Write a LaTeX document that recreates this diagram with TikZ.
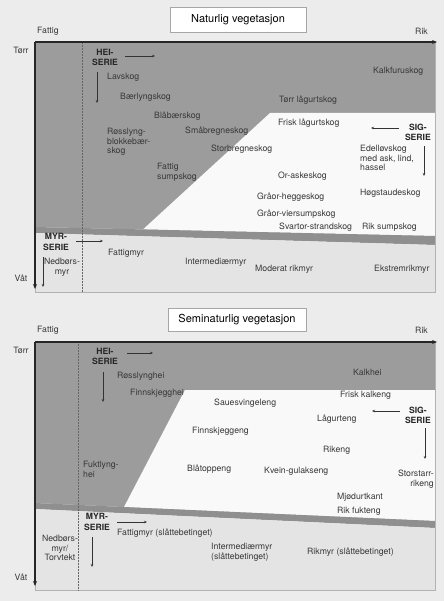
\documentclass[tikz,border=0pt]{standalone}
\usepackage{fontspec}
\setmainfont{TeX Gyre Heros}
\usepackage{tikz}
\usetikzlibrary{arrows.meta}
\definecolor{bakgrunn}{gray}{0.925}
\definecolor{mork}{gray}{0.61}
\definecolor{lys}{gray}{0.975}
\definecolor{band}{gray}{0.56}
\definecolor{myrflate}{gray}{0.895}
\tikzset{
  lbl/.style={font=\fontsize{8.7}{9.7}\selectfont, text=black!78, inner sep=0pt, anchor=west, align=left},
  lblr/.style={lbl, anchor=east, align=right},
  lblc/.style={lbl, anchor=center, align=center},
  serie/.style={font=\bfseries\fontsize{8.6}{10.5}\selectfont, text=black!85, inner sep=0pt, align=center},
  tittel/.style={draw=gray!70, fill=white, inner sep=0pt, font=\fontsize{11}{13}\selectfont},
  akse/.style={line width=1.4pt, black!85, -{Stealth[length=5pt,width=4pt]}},
  pil/.style={line width=0.5pt, black!80, -{Stealth[length=3pt,width=2.5pt]}},
  ramme/.style={gray!60, line width=0.9pt},
  skille/.style={black!60, line width=0.5pt, densely dotted}
}
\begin{document}
\begin{tikzpicture}[x=1pt,y=-1pt]
  \path[use as bounding box, fill=bakgrunn] (0,0) rectangle (444,601);

  % Naturlig vegetasjon
  \fill[mork](35,42)--(435,42)--(435,236)--(35,227)--cycle;
  \fill[lys](270,113)--(435,113)--(435,236)--(143,229.4)--cycle;
  \fill[band](35,227)--(435,236)--(435,245)--(35,233)--cycle;
  \fill[myrflate](35,233)--(435,245)--(435,292)--(35,292)--cycle;
  \draw[ramme](35,42)rectangle(435,292);
  \draw[skille](82,42)--(82,292);

  \coordinate (n-o) at (35,42);
  \coordinate (n-rik) at (437,42);
  \coordinate (n-vat) at (35,289);
  \draw[akse](n-o)--(n-rik);
  \draw[akse](n-o)--(n-vat);

  \node[tittel, minimum width=136pt, minimum height=25pt] (n-tittel) at (238,20) {Naturlig vegetasjon};
  \node[lbl] (n-fattig) at (37,31) {Fattig};
  \node[lblr] (n-rikord) at (428,31) {Rik};
  \node[lblc] (n-torr) at (21,50) {Tørr};
  \node[lblc] (n-vatord) at (21,278) {Våt};

  \node[serie] (n-hei) at (105,57.5) {HEI-\\SERIE};
  \node[serie, anchor=east] (n-sig) at (431,132.5) {SIG-\\SERIE};
  \node[serie] (n-myr) at (56,242) {MYR-\\SERIE};

  \coordinate (n-hei-h0) at (125,56);
  \coordinate (n-hei-h1) at (155,56);
  \coordinate (n-hei-v0) at (97,72);
  \coordinate (n-hei-v1) at (97,103);
  \coordinate (n-sig-h0) at (399,128);
  \coordinate (n-sig-h1) at (371,128);
  \coordinate (n-sig-v0) at (424,146);
  \coordinate (n-sig-v1) at (424,176);
  \coordinate (n-myr-h0) at (76,241);
  \coordinate (n-myr-h1) at (103,241);
  \coordinate (n-myr-v0) at (43,257);
  \coordinate (n-myr-v1) at (43,287);
  \draw[pil](n-hei-h0)--(n-hei-h1);
  \draw[pil](n-hei-v0)--(n-hei-v1);
  \draw[pil](n-sig-h0)--(n-sig-h1);
  \draw[pil](n-sig-v0)--(n-sig-v1);
  \draw[pil](n-myr-h0)--(n-myr-h1);
  \draw[pil](n-myr-v0)--(n-myr-v1);

  \node[lbl] (n-lav) at (107,77) {Lavskog};
  \node[lbl] (n-baerlyng) at (120,97) {Bærlyngskog};
  \node[lbl] (n-blabaer) at (154,116) {Blåbærskog};
  \node[lbl] (n-rosslyng) at (107,142) {Røsslyng-\\blokkebær-\\skog};
  \node[lbl] (n-smabregne) at (185,131) {Småbregneskog};
  \node[lbl] (n-storbregne) at (211,149) {Storbregneskog};
  \node[lbl] (n-fattigsump) at (157,172) {Fattig\\sumpskog};
  \node[lbl] (n-kalkfuru) at (373,71) {Kalkfuruskog};
  \node[lbl] (n-torrlagurt) at (279,100) {Tørr lågurtskog};
  \node[lbl] (n-frisklagurt) at (278,123) {Frisk lågurtskog};
  \node[lbl] (n-edellov) at (360,158) {Edelløvskog\\med ask, lind,\\hassel};
  \node[lbl] (n-oraske) at (278,176) {Or-askeskog};
  \node[lbl] (n-hogstaude) at (360,193) {Høgstaudeskog};
  \node[lbl] (n-graorhegg) at (257,197) {Gråor-heggeskog};
  \node[lbl] (n-graorvier) at (257,214) {Gråor-viersumpskog};
  \node[lbl] (n-svartor) at (279,227) {Svartor-strandskog};
  \node[lbl] (n-riksump) at (362,227) {Rik sumpskog};

  \node[lblc] (n-nedbor) at (62,267) {Nedbørs-\\myr};
  \node[lbl] (n-fattigmyr) at (108,253) {Fattigmyr};
  \node[lbl] (n-intermed) at (185,262) {Intermediærmyr};
  \node[lbl] (n-moderat) at (255,269) {Moderat rikmyr};
  \node[lbl] (n-ekstrem) at (374,269) {Ekstremrikmyr};

  % Seminaturlig vegetasjon
  \fill[mork](35,342)--(435,342)--(435,521)--(35,503)--cycle;
  \fill[lys](185,390)--(435,390)--(435,521)--(124,507)--cycle;
  \fill[band](35,503)--(435,521)--(435,528)--(35,509)--cycle;
  \fill[myrflate](35,509)--(435,528)--(435,590)--(35,590)--cycle;
  \draw[ramme](35,342)rectangle(435,590);
  \draw[skille](78,342)--(78,590);

  \coordinate (s-o) at (35,342);
  \coordinate (s-rik) at (437,342);
  \coordinate (s-vat) at (35,586);
  \draw[akse](s-o)--(s-rik);
  \draw[akse](s-o)--(s-vat);

  \node[tittel, minimum width=138pt, minimum height=23pt] (s-tittel) at (237,319.5) {Seminaturlig vegetasjon};
  \node[lbl] (s-fattig) at (37,330) {Fattig};
  \node[lblr] (s-rikord) at (428,330) {Rik};
  \node[lblc] (s-torr) at (21,350) {Tørr};
  \node[lblc] (s-vatord) at (21,577) {Våt};

  \node[serie] (s-hei) at (105,356.5) {HEI-\\SERIE};
  \node[serie, anchor=east] (s-sig) at (431,415.5) {SIG-\\SERIE};
  \node[serie] (s-myr) at (97,522) {MYR-\\SERIE};

  \coordinate (s-hei-h0) at (127,353);
  \coordinate (s-hei-h1) at (153,353);
  \coordinate (s-hei-v0) at (103,372);
  \coordinate (s-hei-v1) at (103,402);
  \coordinate (s-sig-h0) at (400,411);
  \coordinate (s-sig-h1) at (372,411);
  \coordinate (s-sig-v0) at (425,428);
  \coordinate (s-sig-v1) at (425,459);
  \coordinate (s-myr-h0) at (117,522);
  \coordinate (s-myr-h1) at (147,522);
  \coordinate (s-myr-v0) at (92,537);
  \coordinate (s-myr-v1) at (92,567);
  \draw[pil](s-hei-h0)--(s-hei-h1);
  \draw[pil](s-hei-v0)--(s-hei-v1);
  \draw[pil](s-sig-h0)--(s-sig-h1);
  \draw[pil](s-sig-v0)--(s-sig-v1);
  \draw[pil](s-myr-h0)--(s-myr-h1);
  \draw[pil](s-myr-v0)--(s-myr-v1);

  \node[lbl] (s-rosslyng) at (117,376) {Røsslynghei};
  \node[lbl] (s-finnhei) at (130,393) {Finnskjegghei};
  \node[lbl] (s-kalkhei) at (353,372) {Kalkhei};
  \node[lbl] (s-kalkeng) at (340,395) {Frisk kalkeng};
  \node[lbl] (s-sauesvingel) at (214,403) {Sauesvingeleng};
  \node[lbl] (s-lagurt) at (317,419) {Lågurteng};
  \node[lbl] (s-finneng) at (192,431) {Finnskjeggeng};
  \node[lbl] (s-rikeng) at (323,450) {Rikeng};
  \node[lbl] (s-fuktlyng) at (83,469.5) {Fuktlyng-\\hei};
  \node[lbl] (s-blatopp) at (187,469) {Blåtoppeng};
  \node[lbl] (s-kvein) at (264,471) {Kvein-gulakseng};
  \node[lblr] (s-storstarr) at (434,479) {Storstarr-\\rikeng};
  \node[lbl] (s-mjodurt) at (337,497) {Mjødurtkant};
  \node[lbl] (s-fukteng) at (337,511) {Rik fukteng};

  \node[lblc] (s-nedbor) at (60,548) {Nedbørs-\\myr/\\Torvtekt};
  \node[lbl] (s-fattigmyr) at (117,533) {Fattigmyr (slåttebetinget)};
  \node[lbl] (s-intermed) at (211,552) {Intermediærmyr\\(slåttebetinget)};
  \node[lbl] (s-rikmyr) at (307,552) {Rikmyr (slåttebetinget)};
\end{tikzpicture}
\end{document}
